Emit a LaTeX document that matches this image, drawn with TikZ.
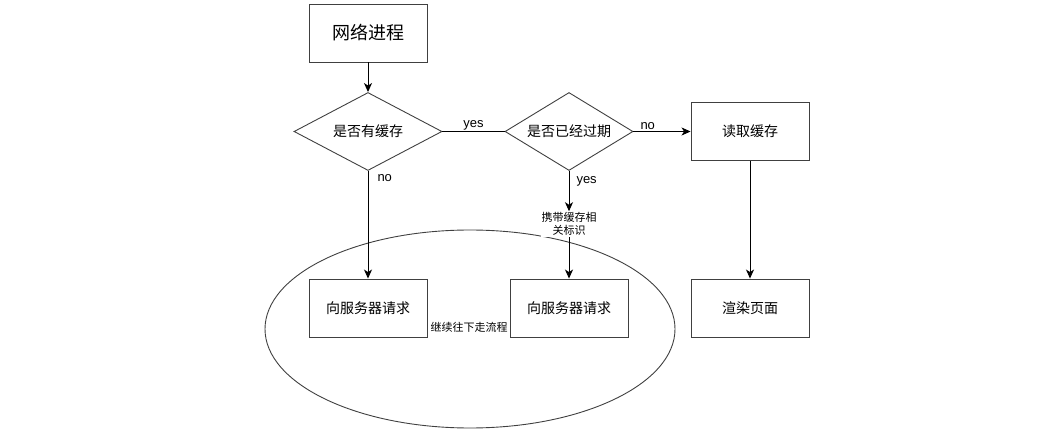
\documentclass[tikz,border=0pt]{standalone}
\usepackage{fontspec}
\setmainfont{Liberation Sans}
\newfontfamily\cjk{Noto Sans CJK SC}
\usetikzlibrary{shapes.geometric,arrows.meta}
\begin{document}
\begin{tikzpicture}[x=1pt,y=-1pt,
  box/.style={draw=black!75,line width=0.9pt,minimum width=118pt,minimum height=58pt,inner sep=0pt,font=\cjk\fontsize{14}{16}\selectfont},
  decision/.style={draw=black!75,line width=0.9pt,diamond,aspect=1.85,minimum width=148pt,minimum height=78pt,inner sep=0pt,font=\cjk\fontsize{14}{16}\selectfont},
  conn/.style={line width=1pt,-{Stealth[length=9pt,width=8pt,inset=2.5pt]}},
  plain/.style={line width=1pt},
  lab/.style={font=\fontsize{13}{15}\selectfont,inner sep=1pt},
  smalllab/.style={font=\cjk\fontsize{11}{13}\selectfont,inner sep=1pt,align=center,fill=white}
]
\useasboundingbox (0,0) rectangle (1038,430);
\node[draw=black!75,line width=0.9pt,ellipse,minimum width=410pt,minimum height=198pt,inner sep=0pt] (ell) at (470,329) {};
\node[box,font=\cjk\fontsize{18}{20}\selectfont] (net) at (368,33) {网络进程};
\node[decision] (d1) at (368,131.5) {是否有缓存};
\node[decision,minimum width=128pt] (d2) at (569,131.5) {是否已经过期};
\node[box] (read) at (750,131.5) {读取缓存};
\node[box] (render) at (750,308) {渲染页面};
\node[box] (req1) at (368,308) {向服务器请求};
\node[box] (req2) at (569,308) {向服务器请求};
\node[smalllab] (carry) at (569,224) {携带缓存相\\关标识};
\node[font=\cjk\fontsize{11}{13}\selectfont,inner sep=0pt] (cont) at (469,327) {继续往下走流程};

\draw[conn] (net.south) -- (d1.north);
\draw[plain] (d1.east) -- node[lab,above] {yes} (d2.west);
\draw[conn] (d2.east) -- node[lab,above,pos=0.25] {no} (read.west);
\draw[conn] (read.south) -- (render.north);
\draw[conn] (d1.south) -- node[lab,pos=0.07,right=8pt] {no} (req1.north);
\draw[conn] (d2.south) -- node[lab,pos=0.25,right=6pt] {yes} (carry.north);
\draw[conn] (carry.south) -- (req2.north);
\end{tikzpicture}
\end{document}
